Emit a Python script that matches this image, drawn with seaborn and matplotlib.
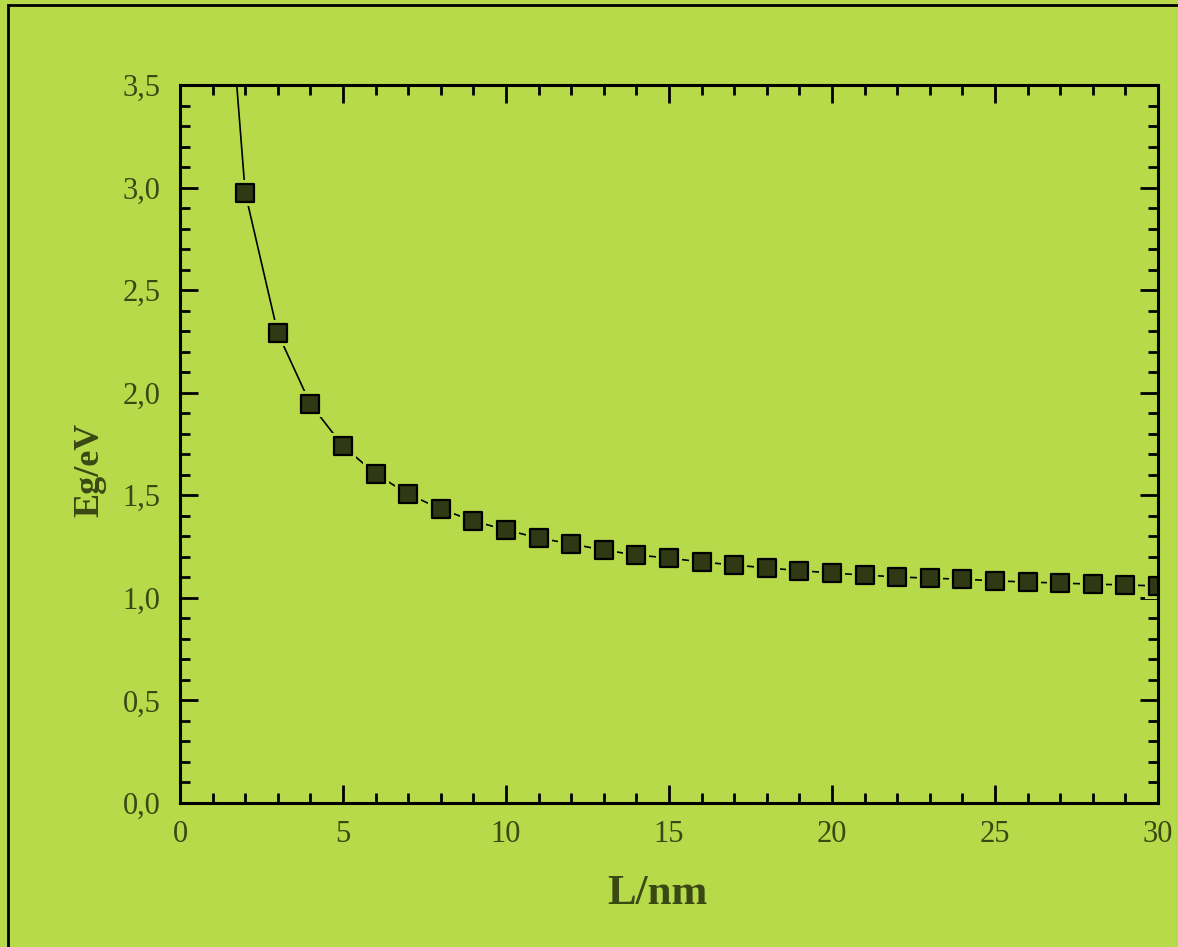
"""
Band gap vs. well width (Eg/eV against L/nm)
"""
import matplotlib
matplotlib.use('Agg')
import matplotlib.pyplot as plt
import matplotlib.patches as mpatches
from matplotlib.ticker import MultipleLocator, FuncFormatter
import seaborn as sns
import pandas as pd

# Data (the point at L=1 lies above the plot and is clipped)
L_nm = [1, 2, 3, 4, 5, 6, 7, 8, 9, 10, 11, 12, 13, 14, 15, 16, 17, 18, 19, 20,
        21, 22, 23, 24, 25, 26, 27, 28, 29, 30]
Eg_eV = [5.00, 2.975, 2.29, 1.945, 1.740, 1.604, 1.506, 1.433, 1.375, 1.331,
         1.292, 1.263, 1.233, 1.209, 1.194, 1.175, 1.160, 1.146, 1.133, 1.121,
         1.111, 1.102, 1.096, 1.091, 1.083, 1.077, 1.072, 1.067, 1.063, 1.058]

x_ticks = [0, 5, 10, 15, 20, 25, 30]
y_ticks = [0.0, 0.5, 1.0, 1.5, 2.0, 2.5, 3.0, 3.5]

df = pd.DataFrame({'L': L_nm, 'Eg': Eg_eV})

BG = '#B6DA4A'
TEXT = '#3A4814'
FACE = '#2F3913'

sns.set_style("ticks")
plt.rcParams['font.family'] = ['Liberation Serif', 'DejaVu Serif']

fig = plt.figure(figsize=(11.78, 9.47), dpi=100, facecolor=BG)
ax = fig.add_axes([180 / 1178, 1 - 803 / 947, 978 / 1178, 718 / 947])
ax.set_facecolor(BG)

# thin connecting line
sns.lineplot(data=df, x='L', y='Eg', color='black', linewidth=1.2, ax=ax,
             zorder=1)
# halo in the background colour so the line stops short of each marker
sns.scatterplot(data=df, x='L', y='Eg', color=BG, marker='s', s=360,
                linewidth=0, ax=ax, zorder=1.5)
# square markers
sns.scatterplot(data=df, x='L', y='Eg', color=FACE, marker='s', s=150,
                edgecolor='black', linewidth=1.6, ax=ax, zorder=2)

ax.set_xlim(0, 30)
ax.set_ylim(0, 3.5)
ax.set_xticks(x_ticks)
ax.set_yticks(y_ticks)
ax.xaxis.set_minor_locator(MultipleLocator(1))
ax.yaxis.set_minor_locator(MultipleLocator(0.1))
ax.yaxis.set_major_formatter(FuncFormatter(lambda v, p: f'{v:.1f}'.replace('.', ',')))
ax.xaxis.set_major_formatter(FuncFormatter(lambda v, p: f'{v:.0f}'))

ax.tick_params(which='both', direction='in', top=True, right=True,
               colors='black', labelcolor=TEXT, width=2)
ax.tick_params(which='major', length=13, labelsize=22)
ax.tick_params(axis='x', which='major', pad=12)
ax.tick_params(axis='y', which='major', pad=14)
ax.tick_params(which='minor', length=7)

for spine in ax.spines.values():
    spine.set_visible(True)
    spine.set_linewidth(2.2)
    spine.set_color('black')
    spine.set_zorder(3)

ax.set_xlabel('L/nm', fontsize=31, fontweight='bold', color=TEXT)
ax.set_ylabel('Eg/eV', fontsize=26, fontweight='bold', color=TEXT)
ax.xaxis.set_label_coords(0.488, -0.10)
ax.yaxis.set_label_coords(-0.075, 0.464)

# outer frame of the figure (left and top edges visible)
frame = mpatches.Rectangle((8 / 1178, -0.05), 1.2, 1 - 5 / 947 + 0.05,
                           transform=fig.transFigure, fill=False,
                           edgecolor='black', linewidth=2, clip_on=False)
fig.patches.append(frame)

plt.savefig('out.png', dpi=100, facecolor=BG)
plt.close()
